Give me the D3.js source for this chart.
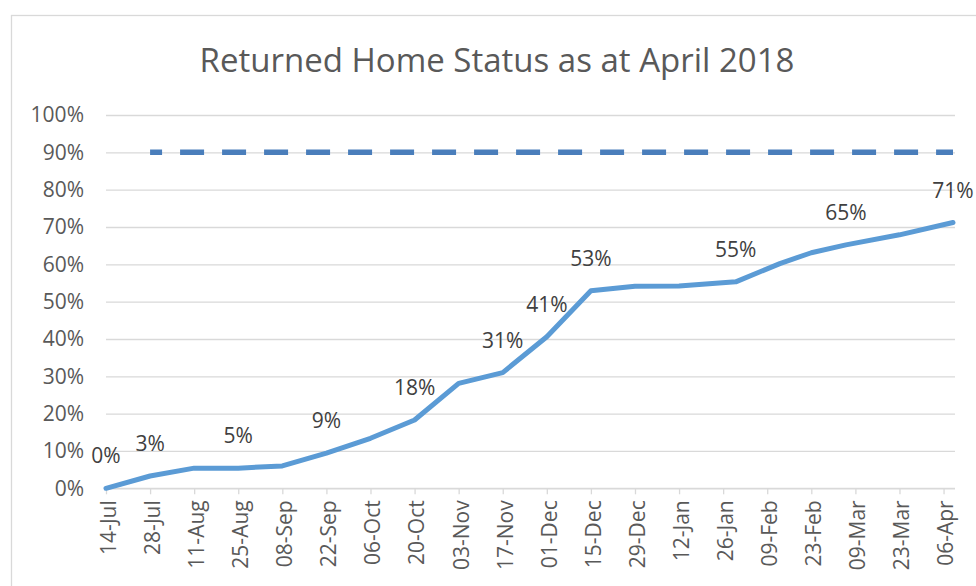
<!DOCTYPE html>
<html>
<head>
<meta charset="utf-8">
<script src="https://cdn.jsdelivr.net/npm/d3@7"></script>
<style>
  body { margin: 0; background: #fff; }
  text { font-family: "Open Sans", sans-serif; }
</style>
</head>
<body>
<div id="chart-area"></div>
<script>
// data
var dates = ["2017-07-14", "2017-07-28", "2017-08-11", "2017-08-25", "2017-09-08",
    "2017-09-22", "2017-10-06", "2017-10-20", "2017-11-03", "2017-11-17",
    "2017-12-01", "2017-12-15", "2017-12-29", "2018-01-12", "2018-01-30",
    "2018-02-13", "2018-02-23", "2018-03-06", "2018-03-23", "2018-04-09"];
var returned = [0, 0.033, 0.054, 0.054, 0.060, 0.094, 0.134, 0.183, 0.281, 0.310,
    0.406, 0.529, 0.541, 0.542, 0.553, 0.602, 0.631, 0.652, 0.679, 0.712];
var labelled = [1, 1, 0, 1, 0, 1, 0, 1, 0, 1, 1, 1, 0, 0, 1, 0, 0, 1, 0, 1];

var targetDates = ["2017-07-28", "2018-04-09"];
var targetValues = [0.90, 0.90];

var tickDates = ["2017-07-14", "2017-07-28", "2017-08-11", "2017-08-25", "2017-09-08",
    "2017-09-22", "2017-10-06", "2017-10-20", "2017-11-03", "2017-11-17",
    "2017-12-01", "2017-12-15", "2017-12-29", "2018-01-12", "2018-01-26",
    "2018-02-09", "2018-02-23", "2018-03-09", "2018-03-23", "2018-04-06"];
var yTicks = [0, 0.1, 0.2, 0.3, 0.4, 0.5, 0.6, 0.7, 0.8, 0.9, 1.0];

var title = "Returned Home Status as at April 2018";

var parse = d3.timeParse("%Y-%m-%d");

var width = 976, height = 586;
var pLeft = 106, pRight = 953, pTop = 115, pBottom = 488.3;

var svg = d3.select("#chart-area")
    .append("svg")
        .attr("width", width)
        .attr("height", height);

// chart border
svg.append("rect")
    .attr("x", 11.5)
    .attr("y", 15.5)
    .attr("width", 1000)
    .attr("height", 600)
    .attr("fill", "none")
    .attr("stroke", "#d9d9d9")
    .attr("stroke-width", 1.3);

svg.append("text")
    .attr("x", 497)
    .attr("y", 72)
    .attr("text-anchor", "middle")
    .attr("font-size", "33px")
    .attr("fill", "#595959")
    .text(title);

var x = d3.scaleTime()
    .domain([parse(dates[0]), parse(dates[dates.length - 1])])
    .range([pLeft, pRight]);

var y = d3.scaleLinear()
    .domain([0, 1])
    .range([pBottom, pTop]);

// y axis + gridlines
var yAxisCall = d3.axisLeft(y)
    .tickValues(yTicks)
    .tickFormat(d3.format(".0%"))
    .tickSize(-(pRight + 2 - pLeft))
    .tickPadding(22);

var yAxis = svg.append("g")
    .attr("transform", "translate(" + pLeft + ",0)")
    .call(yAxisCall);
yAxis.select(".domain").remove();
yAxis.selectAll("line")
    .attr("stroke", "#d9d9d9")
    .attr("stroke-width", 1.3);
yAxis.selectAll("text")
    .attr("font-size", "21px")
    .attr("fill", "#595959")
    .attr("font-family", "Open Sans");

// x axis
var xAxisCall = d3.axisBottom(x)
    .tickValues(tickDates.map(parse))
    .tickFormat(d3.timeFormat("%d-%b"))
    .tickSize(6)
    .tickSizeOuter(0);

var xAxis = svg.append("g")
    .attr("transform", "translate(0," + pBottom + ")")
    .call(xAxisCall);
xAxis.select(".domain")
    .attr("stroke", "#d9d9d9")
    .attr("stroke-width", 1.3)
    .attr("d", "M" + pLeft + ",0H" + (pRight + 2));
xAxis.selectAll("line")
    .attr("stroke", "#d9d9d9")
    .attr("stroke-width", 1.3);
xAxis.selectAll("text")
    .attr("font-size", "21px")
    .attr("fill", "#595959")
    .attr("font-family", "Open Sans")
    .attr("text-anchor", "end")
    .attr("x", 0)
    .attr("y", 0)
    .attr("dy", "0.35em")
    .attr("transform", "translate(2,12) rotate(-90)");

// target line
var targetData = targetDates.map(function(d, i){
    return { date: parse(d), value: targetValues[i] };
});
svg.append("path")
    .datum(targetData)
    .attr("fill", "none")
    .attr("stroke", "#4a7ebb")
    .attr("stroke-width", 5.5)
    .attr("stroke-dasharray", "24,18")
    .attr("stroke-dashoffset", 12)
    .attr("d", d3.line()
        .x(function(d){ return x(d.date); })
        .y(function(d){ return y(d.value); }));

// returned line
var data = dates.map(function(d, i){
    return { date: parse(d), value: returned[i], label: labelled[i] };
});
svg.append("path")
    .datum(data)
    .attr("fill", "none")
    .attr("stroke", "#5b9bd5")
    .attr("stroke-width", 5)
    .attr("stroke-linejoin", "round")
    .attr("stroke-linecap", "round")
    .attr("d", d3.line()
        .x(function(d){ return x(d.date); })
        .y(function(d){ return y(d.value); }));

svg.selectAll(".dlabel")
    .data(data.filter(function(d){ return d.label; }))
    .enter()
    .append("text")
        .attr("class", "dlabel")
        .attr("x", function(d){ return x(d.date); })
        .attr("y", function(d){ return y(d.value) - 25; })
        .attr("text-anchor", "middle")
        .attr("font-size", "21px")
        .attr("fill", "#404040")
        .text(function(d){ return d3.format(".0%")(d.value); });
</script>
</body>
</html>
